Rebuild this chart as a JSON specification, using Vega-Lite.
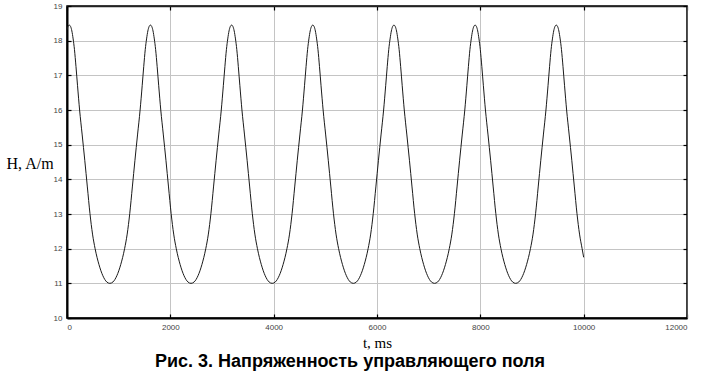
{
 "$schema": "https://vega.github.io/schema/vega-lite/v6.json",
 "width": 620, "height": 312,
 "autosize": "none",
 "padding": {"left": 67, "top": 6, "right": 17, "bottom": 53},
 "background": "white",
 "config": {
  "view": {"stroke": "#000", "strokeWidth": 1.5},
  "axis": {"zindex": 1, "domain": true, "domainColor": "#000", "domainWidth": 2, "gridColor": "#c4c4c4", "gridWidth": 1, "tickColor": "#000", "tickSize": -4, "tickWidth": 1.2,
   "labelFont": "Liberation Sans", "labelFontSize": 8, "labelColor": "#444",
   "titleFont": "Liberation Serif", "titleFontWeight": "normal", "titleColor": "#000", "titleFontSize": 15}
 },
 "title": {"text": "Рис. 3. Напряженность управляющего поля", "orient": "bottom", "anchor": "middle", "font": "Liberation Sans", "fontSize": 18, "fontWeight": "bold", "color": "#000", "dx": -27, "offset": 3},
 "data": {"values": [
  {"t":0,"h":18.31},{"t":19,"h":18.41},{"t":44,"h":18.45},
  {"t":69,"h":18.41},{"t":94,"h":18.28},{"t":119,"h":18.05},{"t":144,"h":17.75},{"t":174,"h":17.25},{"t":204,"h":16.70},{"t":244,"h":16.00},{"t":294,"h":15.28},{"t":344,"h":14.55},{"t":394,"h":13.78},{"t":444,"h":13.02},{"t":494,"h":12.42},{"t":544,"h":12.00},{"t":619,"h":11.54},{"t":694,"h":11.22},{"t":769,"h":11.04},{"t":829,"h":11.00},
  {"t":890,"h":11.04},{"t":965,"h":11.22},{"t":1040,"h":11.54},{"t":1115,"h":12.00},{"t":1165,"h":12.42},{"t":1215,"h":13.02},{"t":1265,"h":13.78},{"t":1315,"h":14.55},{"t":1365,"h":15.28},{"t":1415,"h":16.00},{"t":1455,"h":16.70},{"t":1485,"h":17.25},{"t":1515,"h":17.75},{"t":1540,"h":18.05},{"t":1565,"h":18.28},{"t":1590,"h":18.41},{"t":1615,"h":18.45},
  {"t":1640,"h":18.41},{"t":1665,"h":18.28},{"t":1690,"h":18.05},{"t":1715,"h":17.75},{"t":1745,"h":17.25},{"t":1775,"h":16.70},{"t":1815,"h":16.00},{"t":1865,"h":15.28},{"t":1915,"h":14.55},{"t":1965,"h":13.78},{"t":2015,"h":13.02},{"t":2065,"h":12.42},{"t":2115,"h":12.00},{"t":2190,"h":11.54},{"t":2265,"h":11.22},{"t":2340,"h":11.04},{"t":2400,"h":11.00},
  {"t":2461,"h":11.04},{"t":2536,"h":11.22},{"t":2611,"h":11.54},{"t":2686,"h":12.00},{"t":2736,"h":12.42},{"t":2786,"h":13.02},{"t":2836,"h":13.78},{"t":2886,"h":14.55},{"t":2936,"h":15.28},{"t":2986,"h":16.00},{"t":3026,"h":16.70},{"t":3056,"h":17.25},{"t":3086,"h":17.75},{"t":3111,"h":18.05},{"t":3136,"h":18.28},{"t":3161,"h":18.41},{"t":3186,"h":18.45},
  {"t":3211,"h":18.41},{"t":3236,"h":18.28},{"t":3261,"h":18.05},{"t":3286,"h":17.75},{"t":3316,"h":17.25},{"t":3346,"h":16.70},{"t":3386,"h":16.00},{"t":3436,"h":15.28},{"t":3486,"h":14.55},{"t":3536,"h":13.78},{"t":3586,"h":13.02},{"t":3636,"h":12.42},{"t":3686,"h":12.00},{"t":3761,"h":11.54},{"t":3836,"h":11.22},{"t":3911,"h":11.04},{"t":3971,"h":11.00},
  {"t":4032,"h":11.04},{"t":4107,"h":11.22},{"t":4182,"h":11.54},{"t":4257,"h":12.00},{"t":4307,"h":12.42},{"t":4357,"h":13.02},{"t":4407,"h":13.78},{"t":4457,"h":14.55},{"t":4507,"h":15.28},{"t":4557,"h":16.00},{"t":4597,"h":16.70},{"t":4627,"h":17.25},{"t":4657,"h":17.75},{"t":4682,"h":18.05},{"t":4707,"h":18.28},{"t":4732,"h":18.41},{"t":4757,"h":18.45},
  {"t":4782,"h":18.41},{"t":4807,"h":18.28},{"t":4832,"h":18.05},{"t":4857,"h":17.75},{"t":4887,"h":17.25},{"t":4917,"h":16.70},{"t":4957,"h":16.00},{"t":5007,"h":15.28},{"t":5057,"h":14.55},{"t":5107,"h":13.78},{"t":5157,"h":13.02},{"t":5207,"h":12.42},{"t":5257,"h":12.00},{"t":5332,"h":11.54},{"t":5407,"h":11.22},{"t":5482,"h":11.04},{"t":5542,"h":11.00},
  {"t":5603,"h":11.04},{"t":5678,"h":11.22},{"t":5753,"h":11.54},{"t":5828,"h":12.00},{"t":5878,"h":12.42},{"t":5928,"h":13.02},{"t":5978,"h":13.78},{"t":6028,"h":14.55},{"t":6078,"h":15.28},{"t":6128,"h":16.00},{"t":6168,"h":16.70},{"t":6198,"h":17.25},{"t":6228,"h":17.75},{"t":6253,"h":18.05},{"t":6278,"h":18.28},{"t":6303,"h":18.41},{"t":6328,"h":18.45},
  {"t":6353,"h":18.41},{"t":6378,"h":18.28},{"t":6403,"h":18.05},{"t":6428,"h":17.75},{"t":6458,"h":17.25},{"t":6488,"h":16.70},{"t":6528,"h":16.00},{"t":6578,"h":15.28},{"t":6628,"h":14.55},{"t":6678,"h":13.78},{"t":6728,"h":13.02},{"t":6778,"h":12.42},{"t":6828,"h":12.00},{"t":6903,"h":11.54},{"t":6978,"h":11.22},{"t":7053,"h":11.04},{"t":7113,"h":11.00},
  {"t":7174,"h":11.04},{"t":7249,"h":11.22},{"t":7324,"h":11.54},{"t":7399,"h":12.00},{"t":7449,"h":12.42},{"t":7499,"h":13.02},{"t":7549,"h":13.78},{"t":7599,"h":14.55},{"t":7649,"h":15.28},{"t":7699,"h":16.00},{"t":7739,"h":16.70},{"t":7769,"h":17.25},{"t":7799,"h":17.75},{"t":7824,"h":18.05},{"t":7849,"h":18.28},{"t":7874,"h":18.41},{"t":7899,"h":18.45},
  {"t":7924,"h":18.41},{"t":7949,"h":18.28},{"t":7974,"h":18.05},{"t":7999,"h":17.75},{"t":8029,"h":17.25},{"t":8059,"h":16.70},{"t":8099,"h":16.00},{"t":8149,"h":15.28},{"t":8199,"h":14.55},{"t":8249,"h":13.78},{"t":8299,"h":13.02},{"t":8349,"h":12.42},{"t":8399,"h":12.00},{"t":8474,"h":11.54},{"t":8549,"h":11.22},{"t":8624,"h":11.04},{"t":8684,"h":11.00},
  {"t":8745,"h":11.04},{"t":8820,"h":11.22},{"t":8895,"h":11.54},{"t":8970,"h":12.00},{"t":9020,"h":12.42},{"t":9070,"h":13.02},{"t":9120,"h":13.78},{"t":9170,"h":14.55},{"t":9220,"h":15.28},{"t":9270,"h":16.00},{"t":9310,"h":16.70},{"t":9340,"h":17.25},{"t":9370,"h":17.75},{"t":9395,"h":18.05},{"t":9420,"h":18.28},{"t":9445,"h":18.41},{"t":9470,"h":18.45},
  {"t":9495,"h":18.41},{"t":9520,"h":18.28},{"t":9545,"h":18.05},{"t":9570,"h":17.75},{"t":9600,"h":17.25},{"t":9630,"h":16.70},{"t":9670,"h":16.00},{"t":9720,"h":15.28},{"t":9770,"h":14.55},{"t":9820,"h":13.78},{"t":9870,"h":13.02},{"t":9920,"h":12.42},{"t":9970,"h":12.00},{"t":10000,"h":11.75}
 ]},
 "layer": [
  {
   "mark": {"type": "line", "color": "#1a1a1a", "strokeWidth": 1, "interpolate": "monotone"},
   "encoding": {
    "x": {"field": "t", "type": "quantitative", "scale": {"domain": [0, 12000], "nice": false},
     "axis": {"values": [0, 2000, 4000, 6000, 8000, 10000, 12000], "format": "d", "labelPadding": 9, "title": "t, ms", "titleY": 24, "titleBaseline": "middle"}},
    "y": {"field": "h", "type": "quantitative", "scale": {"domain": [10, 19], "nice": false, "zero": false},
     "axis": {"values": [10, 11, 12, 13, 14, 15, 16, 17, 18, 19], "labelPadding": 9, "title": "H, A/m", "titleFontSize": 16, "titleAngle": 0, "titleAlign": "left", "titleBaseline": "middle", "titleX": -61, "titleY": 157}}
   }
  },
  {
   "mark": {"type": "line", "opacity": 0},
   "encoding": {
    "x": {"field": "t", "type": "quantitative", "scale": {"domain": [0, 12000], "nice": false},
     "axis": {"orient": "top", "values": [0, 2000, 4000, 6000, 8000, 10000, 12000], "labels": false, "grid": false, "title": null, "domainColor": "#222", "domainWidth": 1.5}},
    "y": {"field": "h", "type": "quantitative", "scale": {"domain": [10, 19], "nice": false, "zero": false},
     "axis": {"orient": "right", "values": [10, 11, 12, 13, 14, 15, 16, 17, 18, 19], "labels": false, "grid": false, "title": null, "domainColor": "#555", "domainWidth": 1}}
   }
  }
 ],
 "resolve": {"axis": {"x": "independent", "y": "independent"}}
}
